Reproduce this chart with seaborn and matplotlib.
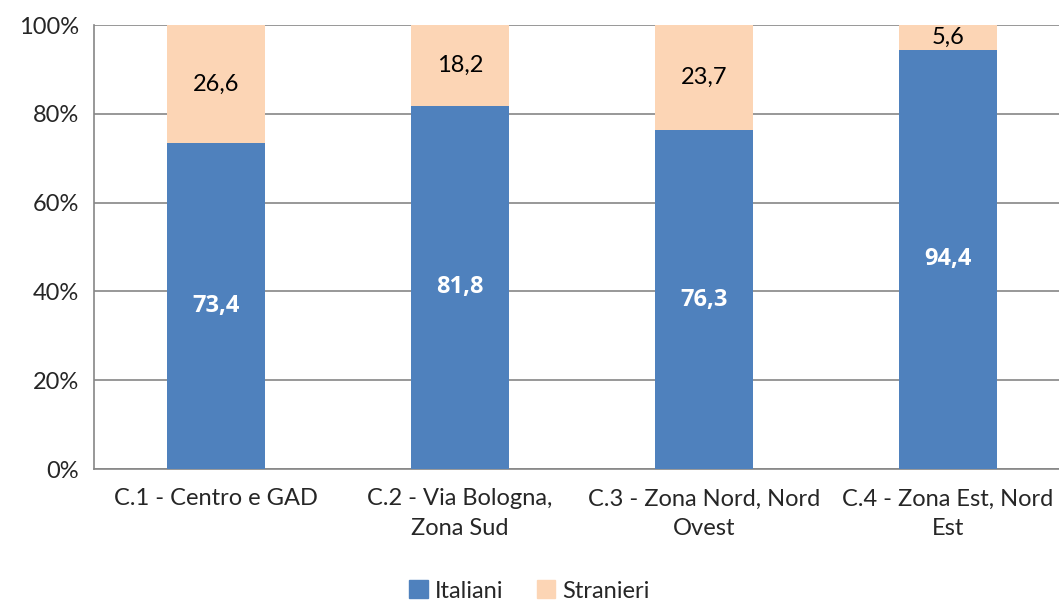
import pandas as pd
import matplotlib
matplotlib.use("Agg")
import matplotlib.pyplot as plt
import seaborn as sns
from matplotlib.patches import Patch

# Data
categories = ["C.1 - Centro e GAD", "C.2 - Via Bologna,\nZona Sud",
              "C.3 - Zona Nord, Nord\nOvest", "C.4 - Zona Est, Nord\nEst"]
italiani = [73.4, 81.8, 76.3, 94.4]
stranieri = [26.6, 18.2, 23.7, 5.6]
yticks = [0, 20, 40, 60, 80, 100]
ytick_labels = ["0%", "20%", "40%", "60%", "80%", "100%"]

blue = "#4F81BD"
peach = "#FCD5B5"
grey = "#868686"

df = pd.DataFrame({"zona": categories, "Italiani": italiani, "Stranieri": stranieri})
df["totale"] = df["Italiani"] + df["Stranieri"]

sns.set_style("white")
plt.rcParams["font.family"] = ["Lato", "DejaVu Sans"]

fig = plt.figure(figsize=(10.59, 6), dpi=100)
ax = fig.add_axes([94 / 1059, 131 / 600, 976 / 1059, 444 / 600])

# Stacked bars: totals in peach, Italiani on top of it in blue
sns.barplot(data=df, x="zona", y="totale", color=peach, width=0.4,
            saturation=1, linewidth=0, ax=ax, zorder=3)
sns.barplot(data=df, x="zona", y="Italiani", color=blue, width=0.4,
            saturation=1, linewidth=0, ax=ax, zorder=3)

for i, (it, st) in enumerate(zip(italiani, stranieri)):
    ax.text(i, it / 2, f"{it:.1f}".replace(".", ","), ha="center", va="center",
            color="white", fontsize=17, fontweight="bold",
            family=["Open Sans", "DejaVu Sans"], zorder=4)
    ax.text(i, it + st / 2, f"{st:.1f}".replace(".", ","), ha="center", va="center",
            color="black", fontsize=17, zorder=4)

ax.set_xlim(-0.5, 3.5)
ax.set_ylim(0, 100)
ax.set_yticks(yticks)
ax.set_yticklabels(ytick_labels, fontsize=17)
ax.set_xticks(range(len(categories)))
ax.set_xticklabels(categories, fontsize=17, linespacing=1.5)
ax.set_xticks([-0.5, 0.5, 1.5, 2.5, 3.5], minor=True)
ax.tick_params(axis="x", which="major", length=0, pad=14)
ax.tick_params(axis="x", which="minor", length=6, color=grey, width=1.2, direction="out")
ax.tick_params(axis="y", length=7, color=grey, width=1.2, direction="out", pad=4)
ax.set_xlabel("")
ax.set_ylabel("")

ax.yaxis.grid(True, color=grey, linewidth=1.2, zorder=0)
ax.set_axisbelow(True)
for s in ["top", "right"]:
    ax.spines[s].set_visible(False)
for s in ["left", "bottom"]:
    ax.spines[s].set_color(grey)
    ax.spines[s].set_linewidth(1.2)

handles = [Patch(color=blue, label="Italiani"), Patch(color=peach, label="Stranieri")]
fig.legend(handles=handles, loc="center", bbox_to_anchor=(0.5, 0.015), ncol=2,
           frameon=False, fontsize=17, handlelength=0.8, handleheight=0.8,
           handletextpad=0.3, columnspacing=1.4)

fig.savefig("out.png", dpi=100)
